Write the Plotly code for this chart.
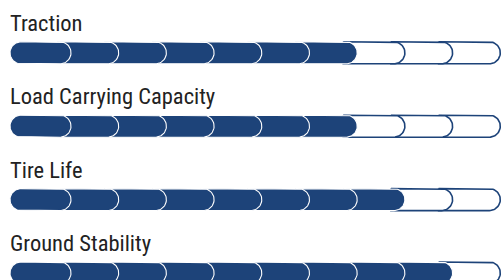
import math
import plotly.graph_objects as go

# ---- data ----
categories = ["Traction", "Load Carrying Capacity", "Tire Life", "Ground Stability"]
ratings = [7, 7, 8, 9]
max_rating = 10

# ---- style / layout constants ----
W, H = 502, 280
BLUE = "#1d4379"
TEXT = "#222222"
X0 = 10.0          # left edge of first segment
R1 = 71.0          # right end of first segment
SEG_PITCH = 47.7   # distance between segment right ends
BAR_H = 22.0
ROW0 = 52.8        # centre of first bar
ROW_PITCH = 73.4
LABEL_OFF = 30.0   # label centre above bar centre
FONT = "Roboto Condensed, Roboto, sans-serif"


def stadium(left, right, cy, r, round_left, n=28):
    xs, ys = [], []
    top, bot = cy - r, cy + r
    cr = right - r
    xs += [left if not round_left else left + r, cr]
    ys += [top, top]
    for k in range(1, n):
        a = -math.pi / 2 + math.pi * k / n
        xs.append(cr + r * math.cos(a))
        ys.append(cy + r * math.sin(a))
    xs.append(cr)
    ys.append(bot)
    if round_left:
        cl = left + r
        xs.append(cl)
        ys.append(bot)
        for k in range(1, n):
            a = math.pi / 2 + math.pi * k / n
            xs.append(cl + r * math.cos(a))
            ys.append(cy + r * math.sin(a))
        xs.append(cl)
        ys.append(top)
    else:
        xs.append(left)
        ys.append(bot)
        xs.append(left)
        ys.append(top)
    return xs, ys


fig = go.Figure()
r = BAR_H / 2
annotations = []
for row, (cat, val) in enumerate(zip(categories, ratings)):
    cy = ROW0 + row * ROW_PITCH
    for i in reversed(range(max_rating)):
        right = R1 + i * SEG_PITCH
        if i == 0:
            left, rl = X0, True
        else:
            left, rl = (R1 + (i - 1) * SEG_PITCH) - r - 3, False
        xs, ys = stadium(left, right, cy, r, rl)
        filled = i < val
        fig.add_trace(go.Scatter(
            x=xs, y=ys, mode="lines", fill="toself",
            fillcolor=BLUE if filled else "white",
            line=dict(color="white" if filled else BLUE, width=1.1 if filled else 1.6),
            hoverinfo="skip", showlegend=False,
        ))
    annotations.append(dict(
        x=X0 - 2, y=cy - LABEL_OFF, xref="x", yref="y", text=cat,
        showarrow=False, xanchor="left", yanchor="middle",
        font=dict(family=FONT, size=22.5, color=TEXT),
    ))

fig.update_layout(
    width=W, height=H,
    margin=dict(l=0, r=0, t=0, b=0),
    paper_bgcolor="white", plot_bgcolor="white",
    xaxis=dict(range=[0, W], visible=False, fixedrange=True),
    yaxis=dict(range=[H, 0], visible=False, fixedrange=True),
    annotations=annotations,
)
fig.write_html(
    "out.html",
    config={"displayModeBar": False, "staticPlot": True},
    post_script="document.body.style.margin='0';"
                "document.documentElement.style.overflow='hidden';",
)
